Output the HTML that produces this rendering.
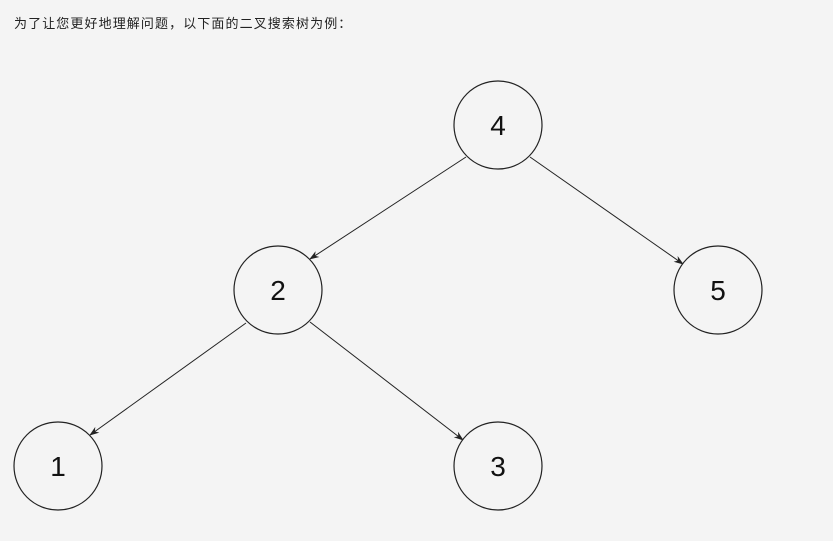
<!DOCTYPE html>
<html><head><meta charset="utf-8"><style>
html,body{margin:0;padding:0;background:#f4f4f4;width:833px;height:541px;overflow:hidden}
.t{position:absolute;left:14px;top:13px;font:13px "Liberation Sans","Noto Sans CJK SC",sans-serif;letter-spacing:1.1px;color:#222}
svg{position:absolute;left:0;top:0}
</style></head><body>
<div class="t">为了让您更好地理解问题，以下面的二叉搜索树为例：</div>
<svg width="833" height="541">
<defs><marker id="a" markerWidth="10" markerHeight="10" refX="9" refY="5" orient="auto" markerUnits="userSpaceOnUse"><path d="M0,1.5 L10,5 L0,8.5 L3,5 Z" fill="#222"/></marker></defs>
<g stroke="#222" stroke-width="1" fill="none">
<line x1="466" y1="157" x2="310" y2="259" marker-end="url(#a)"/>
<line x1="530" y1="157" x2="683" y2="264" marker-end="url(#a)"/>
<line x1="246" y1="323" x2="90" y2="435" marker-end="url(#a)"/>
<line x1="310" y1="322" x2="463" y2="440" marker-end="url(#a)"/>
</g>
<g stroke="#222" stroke-width="1.2" fill="#f4f4f4">
<circle cx="498" cy="125" r="44"/>
<circle cx="278" cy="290" r="44"/>
<circle cx="718" cy="290" r="44"/>
<circle cx="58" cy="466" r="44"/>
<circle cx="498" cy="466" r="44"/>
</g>
<g font-family="Liberation Sans,sans-serif" font-size="28" fill="#111" text-anchor="middle">
<text x="498" y="135">4</text>
<text x="278" y="300">2</text>
<text x="718" y="300">5</text>
<text x="58" y="476">1</text>
<text x="498" y="476">3</text>
</g>
</svg>
</body></html>
